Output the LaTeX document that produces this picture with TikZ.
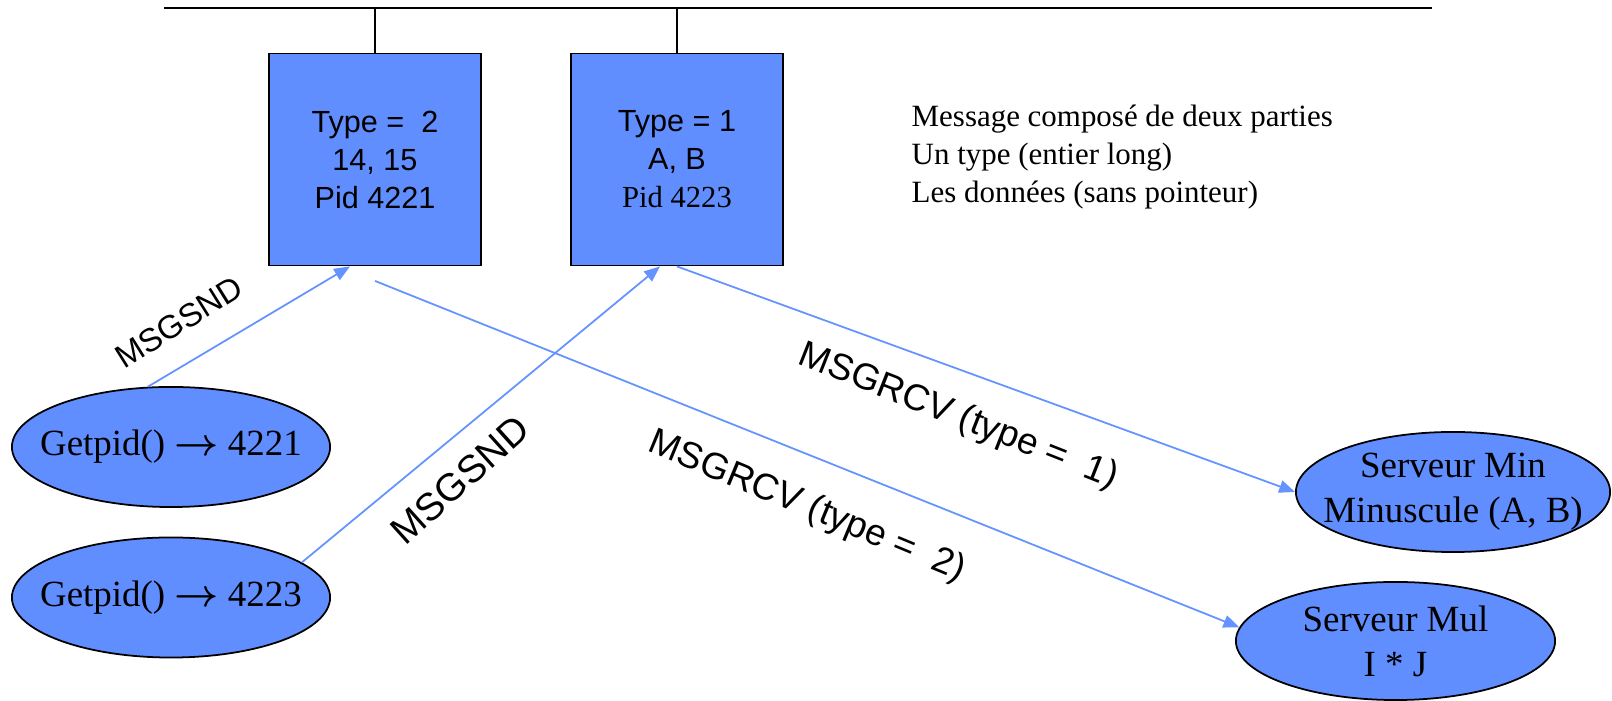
\documentclass[tikz,border=0pt]{standalone}
\usepackage{fontspec}
\setmainfont{Liberation Serif}
\setsansfont{Liberation Sans}
\usepackage{tikz}
\definecolor{queue}{RGB}{97,142,255}
\definecolor{link}{RGB}{100,146,255}
\usetikzlibrary{positioning,arrows.meta,shapes.geometric}
\newcommand*{\flatline}[1]{\makebox[0pt]{#1}}
\newcommand*{\gives}{{\boldmath$\rightarrow$}}
\tikzset{%
  msgbox/.style={draw, rectangle, fill=queue, line width=0.5pt,
    minimum width=2.12cm, minimum height=2.12cm, inner sep=0pt, align=center,
    font=\sffamily\fontsize{8.7}{10.8}\selectfont},% message waiting in the queue
  proc/.style={draw, ellipse, fill=queue, line width=0.5pt, inner sep=0pt,
    minimum width=3.18cm, minimum height=1.2cm, align=center,
    font=\fontsize{10.5}{12.8}\selectfont},% process
  msg/.style={draw=link, line width=0.5pt, ->},% msgsnd / msgrcv call
  call/.style={inner sep=0pt, font=\sffamily\fontsize{10.5}{12}\selectfont}% name of the call
}

\begin{document}
\begin{tikzpicture}[x=0.01cm, y=-0.01cm, >={Triangle[length=4.5pt,width=3.6pt]}]
  \useasboundingbox (0,0) rectangle (1612,701);

  % the queue
  \coordinate (busl) at (164,8);
  \coordinate (busr) at (1432,8);
  \draw[line width=0.6pt] (busl) -- (busr);

  \node[msgbox] (m2) at (375,159.5) {Type = \ 2\\14, 15\\Pid 4221};
  \node[msgbox] (m1) at (677,159.5) {Type = 1\\A, B\\\textrm{Pid 4223}};
  \draw[line width=0.6pt] (m2.north) -- (m2.north |- busl);
  \draw[line width=0.6pt] (m1.north) -- (m1.north |- busl);

  \node[anchor=north west, inner sep=0pt, align=left,
    font=\fontsize{8.8}{10.8}\selectfont] (info) at (911,104)
    {Message composé de deux parties\\Un type (entier long)\\Les données (sans pointeur)};

  % processes
  \node[proc] (p1) at (171,447) {\flatline{Getpid() \gives{} 4221}};
  \node[proc] (p2) at (171,597.5) {\flatline{Getpid() \gives{} 4223}};
  \node[proc, minimum width=3.14cm] (smin) at (1453,492)
    {\flatline{Serveur Min}\\\flatline{Minuscule (A, B)}};
  \node[proc, minimum width=3.19cm, minimum height=1.18cm] (smul) at (1395.5,641)
    {\flatline{Serveur Mul}\\\flatline{I * J}};

  % calls
  \draw[msg] (p1.111) -- ([xshift=-0.25cm]m2.south);
  \draw[msg] (p2.15) -- ([xshift=-0.17cm]m1.south);
  \draw[msg] (m1.south) -- (smin.west);
  \draw[msg] ([yshift=-0.145cm]m2.south) -- (smul.175);

  \node[call, rotate=32, font=\sffamily\fontsize{9.3}{11}\selectfont] (snd1) at (179,322) {MSGSND};
  \node[call, rotate=42, font=\sffamily\fontsize{11}{13}\selectfont] (snd2) at (460,480) {MSGSND};
  \node[call, rotate=-21.5] (rcv1) at (958,417) {MSGRCV (type = \ 1)};
  \node[call, rotate=-22.5] (rcv2) at (807,507) {MSGRCV (type = \ 2)};
\end{tikzpicture}
\end{document}
